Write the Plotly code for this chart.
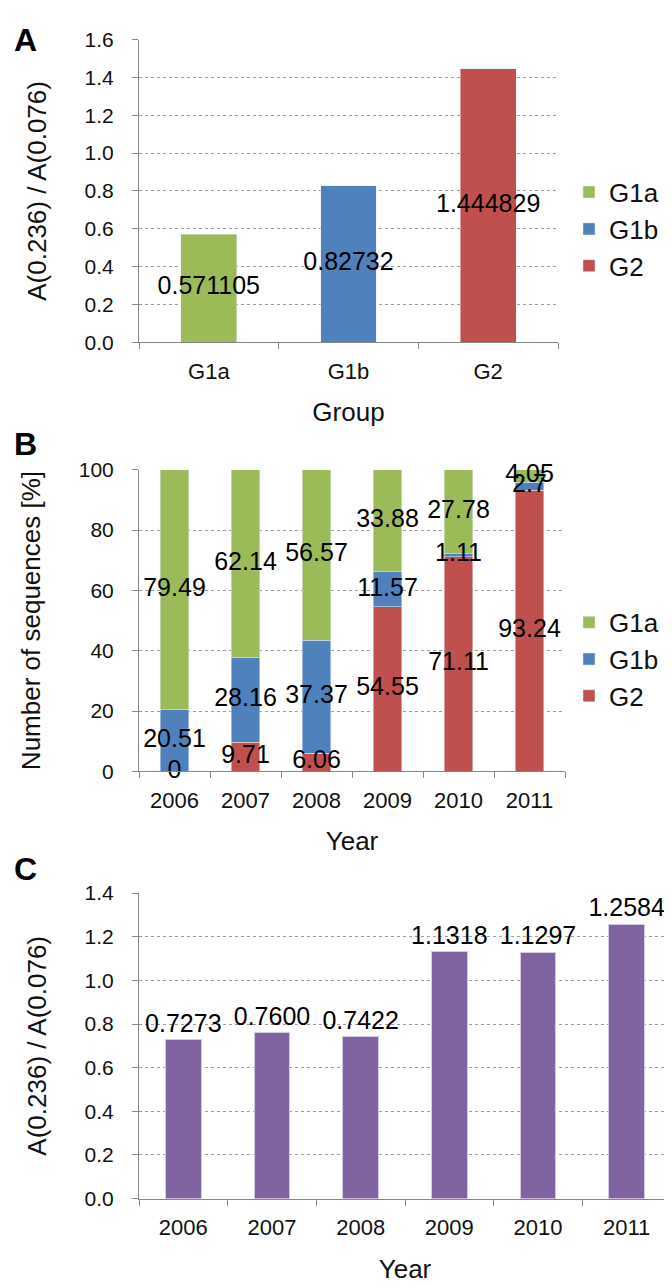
import plotly.graph_objects as go

# panel A: ratio per group
groups = ['G1a', 'G1b', 'G2']
ratio_group = [0.571105, 0.82732, 1.444829]
group_colors = ['#9BBB59', '#4F81BD', '#C0504D']

# panel B: share of sequences per year [%]
years = ['2006', '2007', '2008', '2009', '2010', '2011']
share_g1a = [79.49, 62.14, 56.57, 33.88, 27.78, 4.05]
share_g1b = [20.51, 28.16, 37.37, 11.57, 1.11, 2.7]
share_g2 = [0, 9.71, 6.06, 54.55, 71.11, 93.24]

# panel C: ratio per year
ratio_year = [0.7273, 0.7600, 0.7422, 1.1318, 1.1297, 1.2584]
purple = '#8064A2'

FONT = 'Liberation Sans, Arial, sans-serif'
AXCOL = '#868686'
H = 1287
W = 672

def ydom(top_px, bottom_px):
    return [1 - bottom_px / H, 1 - top_px / H]

fig = go.Figure()

# ---- A ----
for g, v, c in zip(groups, ratio_group, group_colors):
    fig.add_trace(go.Bar(x=[g], y=[v], name=g, marker_color=c,
                         xaxis='x', yaxis='y', legend='legend'))
fig.add_trace(go.Scatter(x=groups, y=[v / 2 for v in ratio_group], mode='text',
                         text=[str(v) for v in ratio_group],
                         textfont=dict(size=25, color='black', family=FONT),
                         xaxis='x', yaxis='y', showlegend=False, hoverinfo='skip',
                         cliponaxis=False))

# ---- B (stacked, G2 at the bottom) ----
bottoms = [0] * len(years)
stack = [('G2', share_g2, group_colors[2]), ('G1b', share_g1b, group_colors[1]),
         ('G1a', share_g1a, group_colors[0])]
for name, vals, c in stack:
    fig.add_trace(go.Bar(x=years, y=vals, name=name, marker_color=c,
                         xaxis='x2', yaxis='y2', legend='legend2'))
for name, vals, c in stack:
    mids = [b + v / 2 for b, v in zip(bottoms, vals)]
    fig.add_trace(go.Scatter(x=years, y=mids, mode='text', text=[str(v) for v in vals],
                             textfont=dict(size=25, color='black', family=FONT),
                             xaxis='x2', yaxis='y2', showlegend=False, hoverinfo='skip',
                             cliponaxis=False))
    bottoms = [b + v for b, v in zip(bottoms, vals)]

# ---- C ----
fig.add_trace(go.Bar(x=years, y=ratio_year, marker_color=purple,
                     marker_line=dict(color='#D3CAE3', width=1),
                     text=['%.4f' % v for v in ratio_year], textposition='outside',
                     constraintext='none', cliponaxis=False,
                     textfont=dict(size=25, color='black', family=FONT),
                     xaxis='x3', yaxis='y3', showlegend=False))

def xax(domain, anchor, title):
    return dict(domain=domain, anchor=anchor, showline=True, linecolor=AXCOL, linewidth=1,
                ticks='outside', tickson='boundaries', ticklen=6, tickcolor=AXCOL,
                tickfont=dict(size=22, color='#111', family=FONT), ticklabelstandoff=9,
                showgrid=False, fixedrange=True,
                title=dict(text=title, font=dict(size=26, color='#111', family=FONT), standoff=20))

def yax(domain, anchor, rng, dtick, fmt, title):
    return dict(domain=domain, anchor=anchor, range=rng, dtick=dtick, tickformat=fmt,
                showline=True, linecolor=AXCOL, linewidth=1, ticks='outside', ticklen=6,
                tickcolor=AXCOL, zeroline=False, showgrid=True, gridcolor='#9E9E9E',
                griddash='3px,3px', gridwidth=1, ticklabelstandoff=14,
                tickfont=dict(size=21, color='#111', family=FONT),
                title=dict(text=title, font=dict(size=26, color='#111', family=FONT), standoff=30))

ratio_title = 'A(0.236) / A(0.076)'
fig.update_layout(
    width=W, height=H, margin=dict(l=0, r=0, t=0, b=0),
    paper_bgcolor='white', plot_bgcolor='white',
    font=dict(family=FONT, color='#111'),
    barmode='stack', bargap=0.6,
    xaxis=xax([131 / W, 550 / W], 'y', 'Group'),
    yaxis=yax(ydom(20, 328), 'x', [0, 1.6], 0.2, '.1f', ratio_title),
    xaxis2=xax([131 / W, 557 / W], 'y2', 'Year'),
    yaxis2=yax(ydom(458, 765), 'x2', [0, 100], 20, 'd', 'Number of sequences [%]'),
    xaxis3=xax([131 / W, 663 / W], 'y3', 'Year'),
    yaxis3=yax(ydom(889, 1200), 'x3', [0, 1.4], 0.2, '.1f', ratio_title),
    legend=dict(x=561 / W, y=1 - 213 / H, xanchor='left', yanchor='middle',
                traceorder='normal', font=dict(size=26, family=FONT, color='#111'),
                itemwidth=30, tracegroupgap=0, bgcolor='rgba(0,0,0,0)'),
    legend2=dict(x=561 / W, y=1 - 651 / H, xanchor='left', yanchor='middle',
                 traceorder='reversed', font=dict(size=26, family=FONT, color='#111'),
                 itemwidth=30, tracegroupgap=0, bgcolor='rgba(0,0,0,0)'),
)

for lab, yc in [('A', 20), ('B', 432), ('C', 864)]:
    fig.add_annotation(text='<b>%s</b>' % lab, x=17 / W, y=1 - yc / H, xref='paper', yref='paper',
                       showarrow=False, xanchor='center', yanchor='middle',
                       font=dict(size=32, color='black', family=FONT))

fig.write_html('out.html')
